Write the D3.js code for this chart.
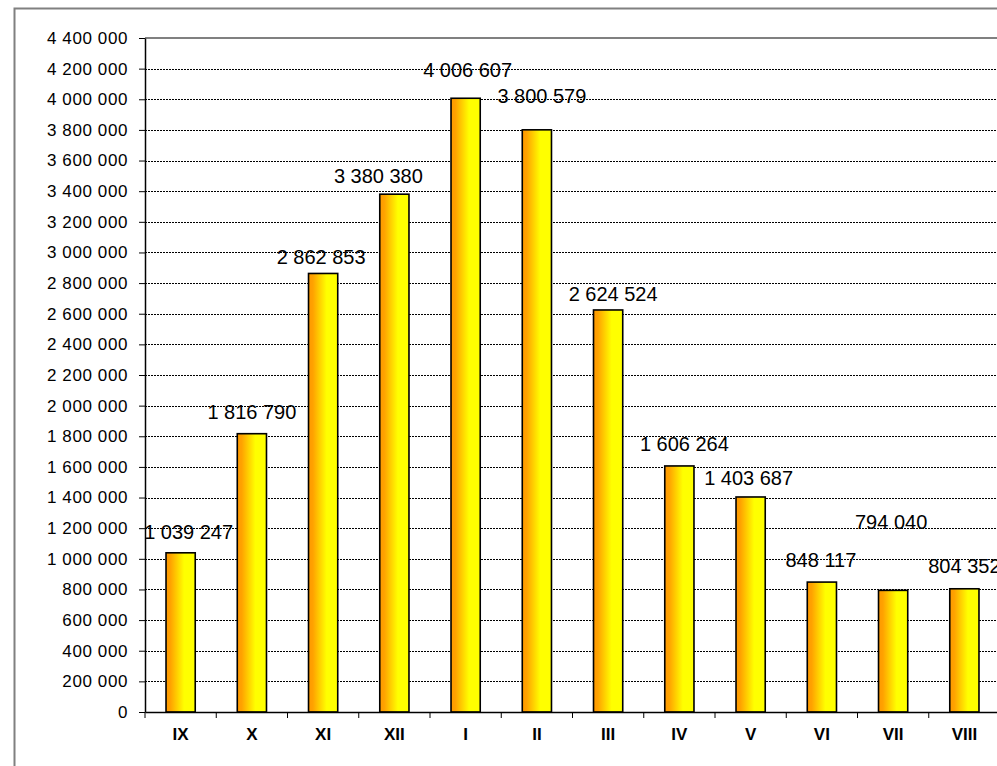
<!DOCTYPE html>
<html>
<head>
<meta charset="utf-8">
<script src="https://cdn.jsdelivr.net/npm/d3@7"></script>
<style>
  body { margin: 0; background: #fff; }
  svg { display: block; }
  text { font-family: "Liberation Sans", Arial, sans-serif; }
</style>
</head>
<body>
<div id="chart"></div>
<script>
// Data
const months = ['IX', 'X', 'XI', 'XII', 'I', 'II', 'III', 'IV', 'V', 'VI', 'VII', 'VIII'];
const values = [1039247, 1816790, 2862853, 3380380, 4006607, 3800579, 2624524, 1606264, 1403687, 848117, 794040, 804352];
const yTicks = [0, 200000, 400000, 600000, 800000, 1000000, 1200000, 1400000, 1600000, 1800000, 2000000,
    2200000, 2400000, 2600000, 2800000, 3000000, 3200000, 3400000, 3600000, 3800000, 4000000, 4200000, 4400000];

// label nudges (as dragged in the original): dx, gap above bar top
const labelDx = [8, 0, -2, -16, 2, 5, 5, 5, -2, -1, -2, 0];
const labelGap = [14, 15, 9, 11, 21, 27, 9, 15, 12, 15, 61, 16];

const W = 997, H = 766;
const plot = { left: 145, right: 1000, top: 38, bottom: 712 };

const fmt = d3.formatLocale({ decimal: ',', thousands: ' ', grouping: [3] }).format(',d');

const svg = d3.select('#chart')
    .append('svg')
    .attr('width', W)
    .attr('height', H);

// gradient for bars
const grad = svg.append('defs').append('linearGradient')
    .attr('id', 'barGrad')
    .attr('x1', '0%').attr('x2', '100%')
    .attr('y1', '0%').attr('y2', '0%');
grad.append('stop').attr('offset', '0%').attr('stop-color', '#ff9900');
grad.append('stop').attr('offset', '15%').attr('stop-color', '#ffa200');
grad.append('stop').attr('offset', '62%').attr('stop-color', '#ffff00');
grad.append('stop').attr('offset', '100%').attr('stop-color', '#ffff00');

// outer chart border
svg.append('rect')
    .attr('x', 14.5).attr('y', 8.5)
    .attr('width', W + 20).attr('height', H + 20)
    .attr('fill', '#fff')
    .attr('stroke', '#808080')
    .attr('stroke-width', 2);

const x = d3.scaleBand()
    .domain(months)
    .range([plot.left, plot.right])
    .padding(0);

const y = d3.scaleLinear()
    .domain([0, 4400000])
    .range([plot.bottom, plot.top]);

// gridlines
svg.append('g')
    .selectAll('line')
    .data(yTicks.filter(d => d > 0 && d < 4400000))
    .enter()
    .append('line')
    .attr('x1', plot.left).attr('x2', plot.right)
    .attr('y1', d => Math.round(y(d)) + 0.5)
    .attr('y2', d => Math.round(y(d)) + 0.5)
    .attr('stroke', '#000')
    .attr('stroke-width', 1)
    .attr('stroke-dasharray', '2,1');

// top border of plot area
svg.append('line')
    .attr('x1', plot.left).attr('x2', plot.right)
    .attr('y1', y(4400000)).attr('y2', y(4400000))
    .attr('stroke', '#808080')
    .attr('stroke-width', 2);

// bars
const barW = x.bandwidth() * 0.41;
svg.append('g')
    .selectAll('rect')
    .data(values)
    .enter()
    .append('rect')
    .attr('x', (d, i) => x(months[i]) + (x.bandwidth() - barW) / 2)
    .attr('y', d => y(d))
    .attr('width', barW)
    .attr('height', d => y(0) - y(d))
    .attr('fill', 'url(#barGrad)')
    .attr('stroke', '#000')
    .attr('stroke-width', 1.6);

// y axis
const yAxis = svg.append('g')
    .attr('transform', `translate(${plot.left},0)`)
    .call(d3.axisLeft(y).tickValues(yTicks).tickFormat(fmt).tickSize(6).tickPadding(11).tickSizeOuter(0));
yAxis.select('.domain').attr('stroke', '#000').attr('stroke-width', 1.5);
yAxis.selectAll('.tick line').attr('stroke', '#000');
yAxis.selectAll('text')
    .attr('fill', '#000')
    .style('font-size', '17px')
    .attr('letter-spacing', '0.6px');

// x axis
const xAxis = svg.append('g')
    .attr('transform', `translate(0,${plot.bottom})`)
    .call(d3.axisBottom(x).tickSize(0).tickPadding(16).tickSizeOuter(0));
xAxis.select('.domain').attr('stroke', '#000').attr('stroke-width', 1.5);
xAxis.selectAll('text')
    .attr('fill', '#000')
    .style('font-size', '17px')
    .style('font-weight', 'bold');

// tick marks at category boundaries
svg.append('g')
    .selectAll('line')
    .data(months.concat(['end']))
    .enter()
    .append('line')
    .attr('x1', d => d === 'end' ? plot.right : x(d))
    .attr('x2', d => d === 'end' ? plot.right : x(d))
    .attr('y1', plot.bottom)
    .attr('y2', plot.bottom + 6)
    .attr('stroke', '#000')
    .attr('stroke-width', 1);

// data labels
svg.append('g')
    .selectAll('text')
    .data(values)
    .enter()
    .append('text')
    .attr('x', (d, i) => x(months[i]) + x.bandwidth() / 2 + labelDx[i])
    .attr('y', (d, i) => y(d) - labelGap[i])
    .attr('text-anchor', 'middle')
    .style('font-size', '20px')
    .attr('fill', '#000')
    .text(d => fmt(d));
</script>
</body>
</html>
